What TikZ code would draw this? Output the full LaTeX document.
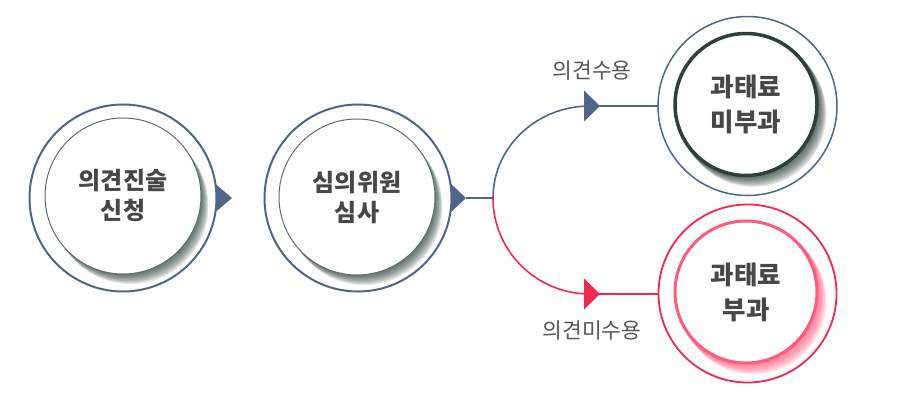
\documentclass[tikz,border=0pt]{standalone}
\usepackage{fontspec}
\newfontfamily\kr{Noto Sans CJK KR}
\usetikzlibrary{calc}
\definecolor{bl}{HTML}{50658A}
\definecolor{rd}{HTML}{F2294F}
\definecolor{gr}{HTML}{5F6E69}
\definecolor{dg}{HTML}{2C4139}
\definecolor{pk}{HTML}{FF5B7B}
\definecolor{txt}{HTML}{474747}
\definecolor{lbt}{HTML}{555555}
\begin{document}
\begin{tikzpicture}[x=1pt,y=-1pt,
  outerc/.style={circle,fill=white,inner sep=0pt,outer sep=0pt},
  innerc/.style={circle,fill=white,inner sep=0pt,outer sep=0pt,align=center,text=txt},
  smalltxt/.style={font=\kr\bfseries\fontsize{24}{30}\selectfont},
  bigtxt/.style={font=\kr\bfseries\fontsize{25.5}{35}\selectfont},
  lab/.style={font=\kr\fontsize{21.5}{24}\selectfont,text=lbt,inner sep=0pt}]
\useasboundingbox (0,0) rectangle (900,400);

% coordinates
\coordinate (t1) at (232,198);
\coordinate (t2) at (466,198);
\coordinate (j) at (493,198);

% connectors
\draw[bl,line width=1.6pt] (t2) -- (j);
\draw[bl,line width=1.6pt] (j) arc[start angle=180,end angle=90,x radius=97pt,y radius=92pt] coordinate (a1) -- (658,106) coordinate (e1);
\draw[rd,line width=1.6pt] (j) arc[start angle=180,end angle=270,x radius=97pt,y radius=96pt] coordinate (a2) -- (658,294) coordinate (e2);

% triangles
\fill[bl] (t1) -- ++(-20,-17) -- ++(0,34) -- cycle;
\fill[bl] (t2) -- ++(-18,-17) -- ++(0,34) -- cycle;
\coordinate (p1) at (600,106);
\coordinate (p2) at (600,294);
\fill[bl] (p1) -- ++(-16,-15.5) -- ++(0,31) -- cycle;
\fill[rd] (p2) -- ++(-16,-15.5) -- ++(0,31) -- cycle;

% outer circles
\node[outerc,draw=bl,line width=2pt,minimum size=187pt] (o1) at (123,198) {};
\node[outerc,draw=bl,line width=2pt,minimum size=187pt] (o2) at (358,198) {};
\node[outerc,draw=bl,line width=1.5pt,minimum size=179pt] (o3) at (747.5,106) {};
\node[outerc,draw=rd,line width=1.8pt,minimum size=178pt] (o4) at (747.5,293.5) {};

% shadows
\coordinate (c1) at (123,196);
\coordinate (c2) at (357,197);
\coordinate (c3) at (746,104.5);
\coordinate (c4) at (746,292);
\foreach \k in {1,...,10} {
  \fill[dg,opacity=0.11] ($(c1)+(\k*0.75,\k*1.0)$) circle[radius=78pt];
  \fill[dg,opacity=0.11] ($(c2)+(\k*0.75,\k*1.0)$) circle[radius=78pt];
  \fill[dg,opacity=0.11] ($(c3)+(\k*0.75,\k*0.95)$) circle[radius=73pt];
  \fill[pk,opacity=0.11] ($(c4)+(\k*0.75,\k*0.95)$) circle[radius=73pt];
}

% inner circles
\node[innerc,smalltxt,draw=gr,line width=1pt,minimum size=156pt] (i1) at (c1) {의견진술\\신청};
\node[innerc,smalltxt,draw=gr,line width=1pt,minimum size=156pt] (i2) at (c2) {심의위원\\심사};
\node[innerc,bigtxt,draw=dg,line width=3.5pt,minimum size=142pt] (i3) at (c3) {과태료\\미부과};
\node[innerc,bigtxt,draw=pk,line width=3pt,minimum size=142pt] (i4) at (c4) {과태료\\부과};

% labels
\node[lab] (l1) at (592,70) {의견수용};
\node[lab] (l2) at (592,330) {의견미수용};
\end{tikzpicture}
\end{document}
